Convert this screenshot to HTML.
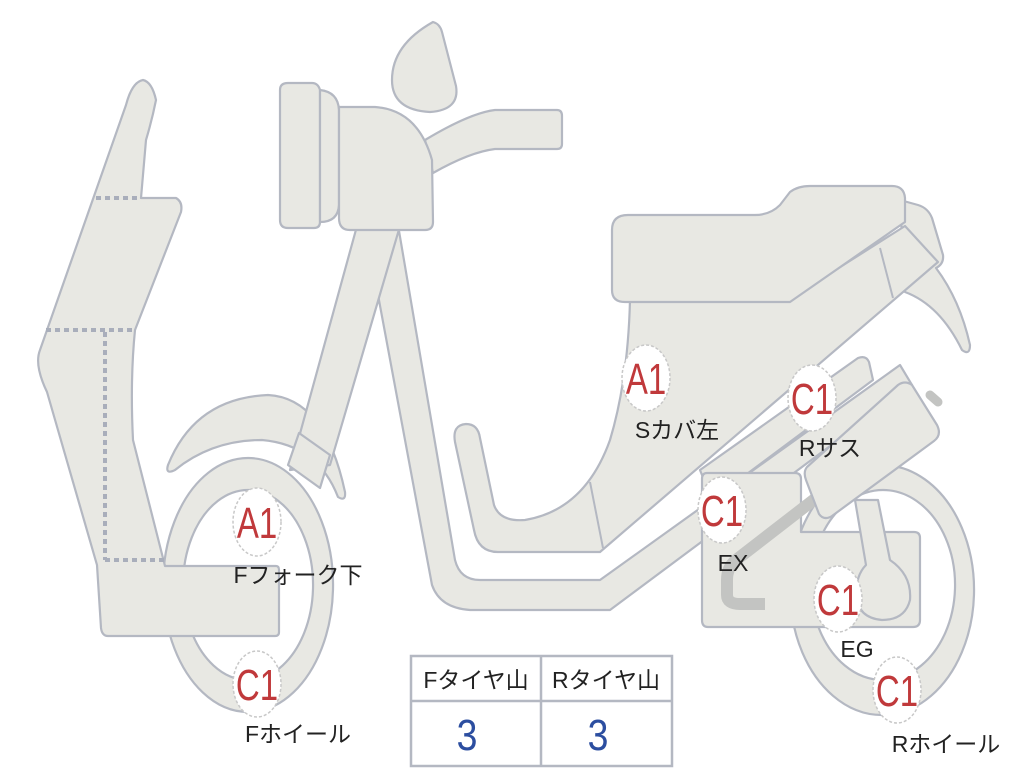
<!DOCTYPE html>
<html><head><meta charset="utf-8"><style>
html,body{margin:0;padding:0;background:#fff}
svg{display:block}
.s{fill:#e8e8e3;stroke:#b4b8c2;stroke-width:2.2;stroke-linejoin:round}
.bd{fill:#fff;stroke:#c8c8c8;stroke-width:1.5;stroke-dasharray:3 2}
.bt{font-family:"Liberation Sans",sans-serif;font-size:44px;fill:#c0393b}
.lb{font-family:"Liberation Sans","Noto Sans CJK JP",sans-serif;font-size:23px;fill:#222}
</style></head><body>
<svg width="1024" height="768" viewBox="0 0 1024 768">
<!-- rear wheel -->
<path class="s" fill-rule="evenodd" d="M882,465 a92,125 0 1,0 0.1,0 Z M883,490 a72,95 0 1,0 0.1,0 Z"/>
<!-- front wheel -->
<path class="s" fill-rule="evenodd" d="M248,458 a85,127 0 1,0 0.1,0 Z M248,490 a65,95 0 1,0 0.1,0 Z"/>
<!-- main frame tube (down from headstock) -->
<path class="s" d="M365,225 L398,225 L455,560 Q460,580 480,580 L600,580 L900,365 L912,385 L610,610 L470,610 Q440,608 432,585 Z"/>
<!-- rear tail -->
<path class="s" d="M900,200 L918,205 Q928,208 932,218 L943,255 Q944,264 936,268 Q960,300 970,345 Q970,356 962,350 Q940,305 905,292 Z"/>
<!-- body / floor -->
<path class="s" d="M630,300 L788,300 L905,226 L938,262 L600,552 L498,552 Q478,552 474,530 L455,442 Q452,425 466,424 Q478,424 480,438 L494,505 Q500,522 525,520 Q585,510 610,440 Q628,380 630,300 Z"/>
<path d="M590,482 L603,548 M880,248 L893,298" stroke="#b4b8c2" stroke-width="2" fill="none"/>
<!-- seat -->
<path class="s" d="M628,215 L755,215 Q770,215 780,205 L790,192 Q798,186 810,186 L892,186 Q904,186 905,198 L905,222 L790,302 L625,302 Q612,302 612,290 L612,230 Q612,215 628,215 Z"/>
<!-- swing arm bar -->
<path class="s" d="M700,470 L858,358 Q866,355 869,362 L873,380 L712,500 Z"/>
<!-- engine box -->
<path class="s" d="M707,473 L795,473 Q801,473 801,479 L801,532 L914,532 Q920,532 920,538 L920,620 Q920,627 913,627 L708,627 Q702,627 702,620 L702,479 Q702,473 707,473 Z"/>
<!-- exhaust -->
<path d="M820,495 L736,560 Q727,567 727,580 L727,595 Q727,604 740,604 L765,604" fill="none" stroke="#c3c4c2" stroke-width="12" stroke-linejoin="round"/>
<!-- shock rod -->
<line x1="930" y1="395" x2="938" y2="402" stroke="#c3c4c2" stroke-width="9" stroke-linecap="round"/>
<!-- vertical link + circle -->
<path class="s" d="M855,500 L878,500 L890,560 Q912,575 910,600 Q905,620 882,620 Q858,618 856,595 Q856,575 866,565 Z"/>
<!-- shock box -->
<path class="s" d="M807,467 L898,385 Q905,380 912,385 L937,425 Q942,435 934,441 L832,516 Q824,521 819,514 L806,480 Q803,472 807,467 Z"/>
<!-- front fender -->
<path class="s" d="M168,465 Q195,398 268,395 Q325,398 345,492 Q346,502 338,497 Q318,445 262,440 Q212,440 175,470 Q165,475 168,465 Z"/>
<!-- fork -->
<path class="s" d="M357,226 L400,226 L330,465 L290,470 Z"/>
<path class="s" d="M299,433 L330,455 L320,488 L288,465 Z"/>
<!-- front shield -->
<path class="s" d="M143,80 Q152,82 156,100 Q152,120 146,140 L141,198 L176,198 Q183,202 181,212 L135,330 Q130,380 133,440 L165,566 L276,566 Q279,566 279,570 L279,632 Q279,636 275,636 L108,636 Q102,636 101,628 L97,565 L47,392 Q34,365 40,350 L126,105 Q132,82 143,80 Z"/>
<path d="M96,198 L140,198 M46,330 L135,330 M105,332 L105,560 M105,560 L165,560" stroke="#a9aebb" stroke-width="4" stroke-dasharray="5 4" fill="none"/>
<!-- handlebar -->
<path class="s" d="M425,140 Q470,113 495,110 L557,110 Q562,110 562,116 L562,144 Q562,149 557,149 L495,149 Q470,152 433,173 Z"/>
<!-- mirror -->
<path class="s" d="M433,22 Q440,24 442,32 L456,86 Q460,110 430,112 Q392,110 392,80 Q392,45 433,22 Z"/>
<!-- headlight -->
<path class="s" d="M288,83 L312,83 Q318,83 320,90 L320,222 Q320,228 314,228 L288,228 Q280,228 280,220 L280,90 Q280,83 288,83 Z"/>
<path class="s" d="M320,90 Q338,92 339,110 L339,205 Q338,222 320,222 Z"/>
<path class="s" d="M339,107 L375,107 Q418,110 432,160 L433,222 Q433,230 425,230 L350,230 Q339,230 339,218 Z"/>
<!-- table -->
<rect x="411" y="656" width="261" height="110" fill="#fff" stroke="#b4b8c2" stroke-width="2.5"/>
<line x1="411" y1="701" x2="672" y2="701" stroke="#b4b8c2" stroke-width="2.5"/>
<line x1="541" y1="656" x2="541" y2="766" stroke="#b4b8c2" stroke-width="2.5"/>
<text class="lb" x="476" y="688" text-anchor="middle" font-size="24">Fタイヤ山</text>
<text class="lb" x="606" y="688" text-anchor="middle" font-size="24">Rタイヤ山</text>
<text x="467" y="750" text-anchor="middle" font-family="Liberation Sans,sans-serif" font-size="44" fill="#2c4ea0" transform="translate(467,0) scale(0.85,1) translate(-467,0)">3</text>
<text x="598" y="750" text-anchor="middle" font-family="Liberation Sans,sans-serif" font-size="44" fill="#2c4ea0" transform="translate(598,0) scale(0.85,1) translate(-598,0)">3</text>
<!-- badges -->
<g>
<ellipse class="bd" cx="646" cy="378" rx="24" ry="33"/>
<text class="bt" x="646" y="394" text-anchor="middle" transform="translate(646,0) scale(0.75,1) translate(-646,0)">A1</text>
<ellipse class="bd" cx="812" cy="398" rx="24" ry="33"/>
<text class="bt" x="812" y="414" text-anchor="middle" transform="translate(812,0) scale(0.75,1) translate(-812,0)">C1</text>
<ellipse class="bd" cx="722" cy="510" rx="24" ry="33"/>
<text class="bt" x="722" y="526" text-anchor="middle" transform="translate(722,0) scale(0.75,1) translate(-722,0)">C1</text>
<ellipse class="bd" cx="257" cy="522" rx="24" ry="34"/>
<text class="bt" x="257" y="538" text-anchor="middle" transform="translate(257,0) scale(0.75,1) translate(-257,0)">A1</text>
<ellipse class="bd" cx="257" cy="684" rx="24" ry="33"/>
<text class="bt" x="257" y="700" text-anchor="middle" transform="translate(257,0) scale(0.75,1) translate(-257,0)">C1</text>
<ellipse class="bd" cx="838" cy="599" rx="24" ry="33"/>
<text class="bt" x="838" y="615" text-anchor="middle" transform="translate(838,0) scale(0.75,1) translate(-838,0)">C1</text>
<ellipse class="bd" cx="897" cy="690" rx="24" ry="33"/>
<text class="bt" x="897" y="706" text-anchor="middle" transform="translate(897,0) scale(0.75,1) translate(-897,0)">C1</text>
</g>
<!-- labels -->
<text class="lb" x="677" y="438" text-anchor="middle">Sカバ左</text>
<text class="lb" x="830" y="456" text-anchor="middle">Rサス</text>
<text class="lb" x="733" y="571" text-anchor="middle">EX</text>
<text class="lb" x="298" y="583" text-anchor="middle">Fフォーク下</text>
<text class="lb" x="298" y="742" text-anchor="middle">Fホイール</text>
<text class="lb" x="857" y="657" text-anchor="middle">EG</text>
<text class="lb" x="946" y="752" text-anchor="middle">Rホイール</text>
</svg>
</body></html>
